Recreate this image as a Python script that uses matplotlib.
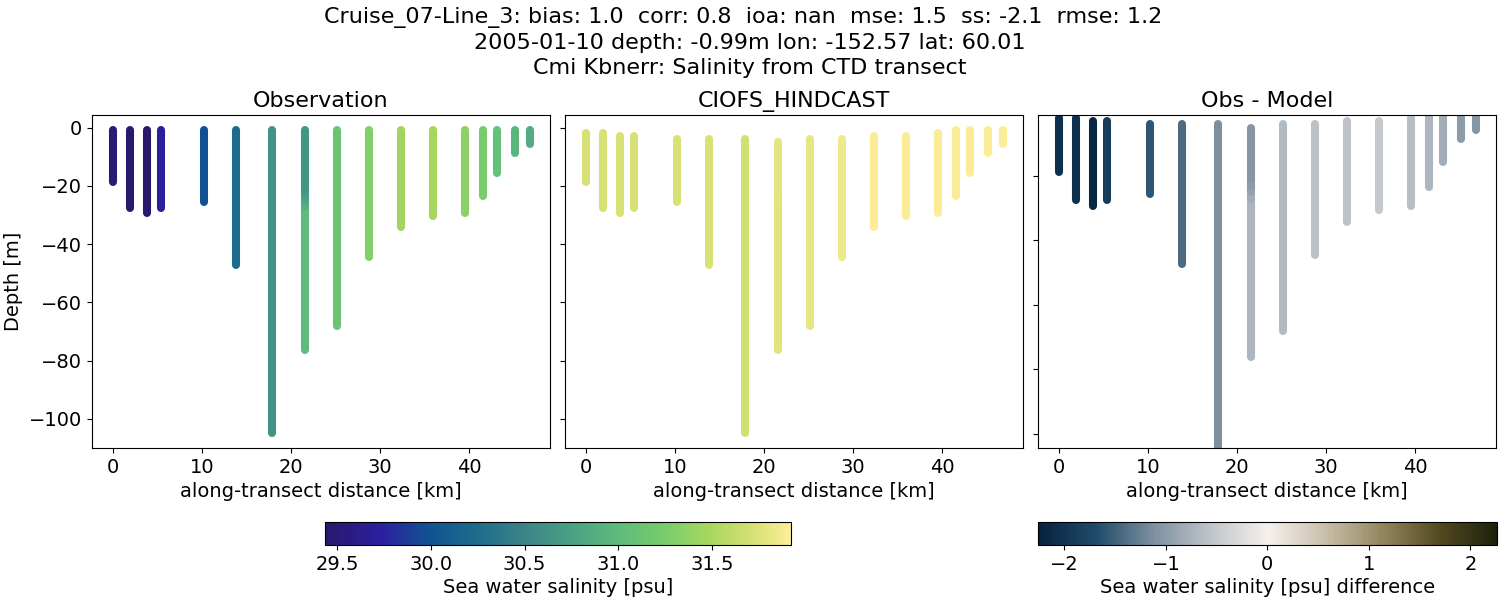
import numpy as np
import matplotlib
matplotlib.use('Agg')
import matplotlib.pyplot as plt
from matplotlib import colors
from matplotlib.cm import ScalarMappable

plt.rcParams['font.size'] = 14

# first line is wider than it looks, the original has trailing blanks there
title_lines = ['Cruise_07-Line_3: bias: 1.0  corr: 0.8  ioa: nan  mse: 1.5  ss: -2.1  rmse: 1.2  ',
               '2005-01-10 depth: -0.99m lon: -152.57 lat: 60.01',
               'Cmi Kbnerr: Salinity from CTD transect']

station_km = [0.0, 1.95, 3.85, 5.35, 10.2, 13.8, 17.85, 21.55, 25.2, 28.8, 32.4, 36.0, 39.55, 41.6, 43.2, 45.2, 46.85]
bottom_m = [-18.6, -27.5, -29.4, -27.5, -25.5, -47.2, -104.8, -76.3, -68.0, -44.5, -34.3, -30.4, -29.4, -23.5, -15.6, -8.6, -5.8]
obs_top_m = [-0.99] * 17
model_top_m = [-2, -2, -3, -3, -3.9, -3.9, -3.9, -5, -3.9, -3.9, -3, -3, -2, -1, -1, -1, -1]

# salinity read per cast; the one cast that changes with depth gets extra layers below
obs_sal = [29.5, 29.45, 29.42, 29.7, 29.97, 30.23, 30.62, 30.65, 31.12, 31.3, 31.45, 31.48, 31.35, 31.25, 31.07, 30.95, 30.85]
model_sal = [31.72, 31.72, 31.72, 31.72, 31.72, 31.72, 31.69, 31.79, 31.8, 31.84, 31.91, 31.91, 31.91, 31.91, 31.91, 31.91, 31.91]
diff_sal = [-2.05, -2.05, -2.2, -1.9, -1.6, -1.42, -1.13, -1.05, -0.67, -0.6, -0.58, -0.5, -0.63, -0.72, -0.8, -1.0, -1.05]
layer_station = 7
layer_m = [-21.0, -23.0, -25.0, -27.0]
obs_layers = [30.7, 30.78, 30.88, 31.0]
model_layers = [31.78, 31.78, 31.78, 31.77]
diff_layers = [-1.0, -0.92, -0.82, -0.72]

haline_stops = ['#2a186c', '#2b20a0', '#0f5590', '#1f6d8c', '#3b8587', '#49a284', '#5dbc7b', '#78cc6c', '#aad75d', '#dbe277', '#fdee99']
haline_pos = [0.0, 0.12, 0.227, 0.33, 0.43, 0.53, 0.63, 0.73, 0.83, 0.93, 1.0]
diff_stops = ['#07223f', '#1f4b69', '#7d8f9f', '#bfc4ca', '#f5f0ed', '#c9c0ab', '#94875f', '#544a1f', '#1c220c']

haline = colors.LinearSegmentedColormap.from_list('haline', list(zip(haline_pos, haline_stops)))
diffmap = colors.LinearSegmentedColormap.from_list('diff', diff_stops)
sal_norm = colors.Normalize(29.435, 31.92)
diff_norm = colors.Normalize(-2.26, 2.26)


def draw_casts(ax, tops, values, layers, cmap, norm):
    for i, x in enumerate(station_km):
        if i == layer_station:
            # deepest first so the upper layers sit on top at the joins
            edges = [bottom_m[i]] + layer_m[::-1] + [tops[i]]
            vals = layers[::-1] + [values[i]]
            for k, v in enumerate(vals):
                ax.plot([x, x], [edges[k], edges[k + 1]], color=cmap(norm(v)), lw=5.8, solid_capstyle='round')
        else:
            ax.plot([x, x], [tops[i], bottom_m[i]], color=cmap(norm(values[i])), lw=5.8, solid_capstyle='round')


fig = plt.figure(figsize=(15, 6), dpi=100)
W, H = 1500.0, 600.0


def box(x0, y0, x1, y1):
    return [x0 / W, 1 - y1 / H, (x1 - x0) / W, (y1 - y0) / H]


ax1 = fig.add_axes(box(92, 115, 550, 448))
ax2 = fig.add_axes(box(565, 115, 1023, 448))
ax3 = fig.add_axes(box(1038, 115, 1496, 448))

draw_casts(ax1, obs_top_m, obs_sal, obs_layers, haline, sal_norm)
draw_casts(ax2, model_top_m, model_sal, model_layers, haline, sal_norm)
draw_casts(ax3, model_top_m, diff_sal, diff_layers, diffmap, diff_norm)

for ax, name in zip([ax1, ax2, ax3], ['Observation', 'CIOFS_HINDCAST', 'Obs - Model']):
    ax.set_title(name, fontsize=16, pad=6)
    ax.set_xlabel('along-transect distance [km]')
    ax.set_xlim(-2.36, 49.1)
    ax.set_xticks([0, 10, 20, 30, 40])

ax1.set_ylim(-110, 4.3)
ax2.set_ylim(-110, 4.3)
ax3.set_ylim(-104.5, -0.99)
ax1.set_ylabel('Depth [m]', labelpad=4)
ax1.set_yticks([0, -20, -40, -60, -80, -100])
ax2.set_yticks([0, -20, -40, -60, -80, -100])
ax3.set_yticks([-20, -40, -60, -80, -100])
ax2.set_yticklabels([])
ax3.set_yticklabels([])

fig.text(0.5, 0.9885, '\n'.join(title_lines), ha='center', va='top', fontsize=16, linespacing=1.3)

cax1 = fig.add_axes(box(325, 522.3, 790.7, 545))
cb1 = fig.colorbar(ScalarMappable(sal_norm, haline), cax=cax1, orientation='horizontal')
cb1.set_ticks([29.5, 30.0, 30.5, 31.0, 31.5])
cb1.set_label('Sea water salinity [psu]', labelpad=3)

cax2 = fig.add_axes(box(1038, 522.3, 1496.7, 545))
cb2 = fig.colorbar(ScalarMappable(diff_norm, diffmap), cax=cax2, orientation='horizontal')
cb2.set_ticks([-2, -1, 0, 1, 2])
cb2.set_label('Sea water salinity [psu] difference', labelpad=3)

fig.savefig('out.png', dpi=100)
